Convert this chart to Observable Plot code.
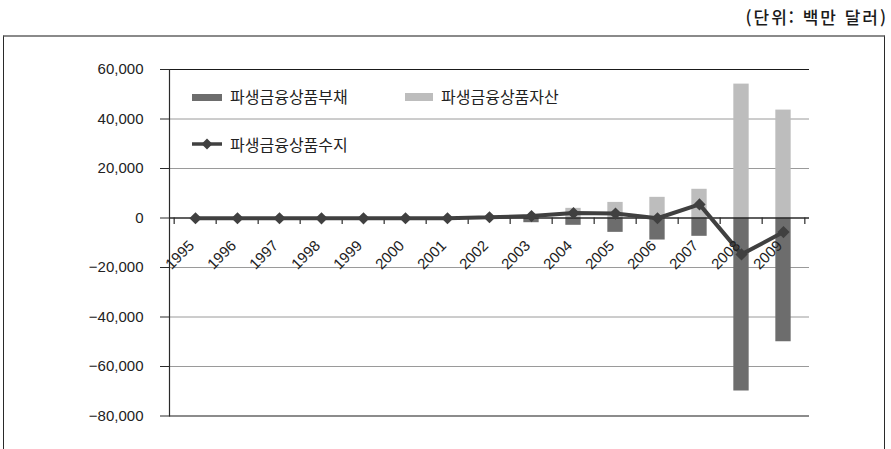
<!DOCTYPE html>
<html lang="ko">
<head>
<meta charset="utf-8">
<script src="https://cdn.jsdelivr.net/npm/d3@7"></script>
<script src="https://cdn.jsdelivr.net/npm/@observablehq/plot@0.6"></script>
<style>
  body { margin: 0; background: #fff; }
  #wrap { position: relative; width: 891px; height: 449px; overflow: hidden; background: #fff; }
  #unit { position: absolute; right: 3px; top: 7px; font: 500 17px "Noto Sans CJK KR", sans-serif; letter-spacing: 2px; line-height: 20px; color: #1a1a1a; }
  #frame { position: absolute; left: 3px; top: 35px; width: 880px; height: 500px; border-left: 1px solid #2a2a2a; border-right: 1px solid #2a2a2a; border-top: 2px solid #8a8a8a; }
  #chart svg { display: block; }
  .lg { position: absolute; font: 16px "Noto Sans CJK KR", sans-serif; color: #222; line-height: 20px; white-space: nowrap; }
  .sw { position: absolute; }
</style>
</head>
<body>
<div id="wrap">
  <div id="unit">(단위: 백만 달러)</div>
  <div id="frame">
    <div id="chart"></div>
    <div class="sw" style="left:188px;top:57px;width:30px;height:7px;background:#6d6d6d"></div>
    <div class="lg" style="left:226px;top:49px">파생금융상품부채</div>
    <div class="sw" style="left:401px;top:56px;width:28px;height:8px;background:#bdbdbd"></div>
    <div class="lg" style="left:437px;top:49px">파생금융상품자산</div>
    <svg class="sw" style="left:186px;top:100px" width="34" height="14">
      <line x1="2" y1="7" x2="32" y2="7" stroke="#404040" stroke-width="3.5"/>
      <path d="M17 1.5 L22.5 7 L17 12.5 L11.5 7 Z" fill="#404040"/>
    </svg>
    <div class="lg" style="left:226px;top:97px">파생금융상품수지</div>
  </div>
</div>
<script>
// Derivatives trade, 1995–2009 (USD millions)
const years = ["1995","1996","1997","1998","1999","2000","2001","2002","2003","2004","2005","2006","2007","2008","2009"];
const liabilities = [0, 0, 0, 0, 0, 0, 0, 0, -1900, -2950, -5800, -8900, -7400, -69900, -50000];
const assets = [0, 0, 0, 0, 0, 0, 0, 0, 600, 3900, 6300, 8350, 11600, 54100, 43600];
const balance = [-100, -100, -100, -150, -150, -100, -100, 300, 800, 2000, 1800, -100, 5500, -14700, -5700];
const yTicks = [60000, 40000, 20000, 0, -20000, -40000, -60000, -80000];
const gridValues = [40000, 20000, -20000, -40000, -60000];

const rows = years.map((year, i) => ({year, liability: liabilities[i], asset: assets[i], balance: balance[i]}));

const width = 880, height = 411;
const marginLeft = 165, marginRight = 75, marginTop = 32, marginBottom = 32.5;
const bw = (width - marginLeft - marginRight) / years.length;
const barInset = (bw - 16) / 2;

const chart = Plot.plot({
  width, height, marginLeft, marginRight, marginTop, marginBottom,
  style: {fontFamily: "'Liberation Sans', Arial, sans-serif", fontSize: "15px", color: "#222", background: "#fff"},
  x: {type: "band", domain: years, padding: 0, axis: null},
  y: {domain: [-80000, 60000], axis: null},
  marks: [
    Plot.ruleY(gridValues, {stroke: "#9a9a9a", strokeWidth: 1}),
    Plot.ruleY([60000, -80000], {stroke: "#1a1a1a", strokeWidth: 1.2}),
    Plot.barY(rows, {x: "year", y: "asset", fill: "#bdbdbd", insetLeft: barInset, insetRight: barInset}),
    Plot.barY(rows, {x: "year", y: "liability", fill: "#6d6d6d", insetLeft: barInset, insetRight: barInset}),
    Plot.ruleY([0], {stroke: "#2a2a2a", strokeWidth: 1.4}),
    // tick marks on the zero line at category boundaries
    Plot.ruleX(years, {x: d => d, y1: 0, y2: -2600, dx: -bw / 2, stroke: "#2a2a2a", strokeWidth: 1.2}),
    Plot.ruleX(years.slice(-1), {x: d => d, y1: 0, y2: -2600, dx: bw / 2, stroke: "#2a2a2a", strokeWidth: 1.2}),
    Plot.frame({anchor: "left", stroke: "#2a2a2a", strokeWidth: 1.2}),
    Plot.axisY(yTicks, {tickSize: 9, tickPadding: 17, tickFormat: d3.format(","), stroke: "#2a2a2a", fontSize: 15, fill: "#222"}),
    Plot.line(rows, {x: "year", y: "balance", stroke: "#404040", strokeWidth: 4, strokeLinejoin: "miter"}),
    Plot.dot(rows, {x: "year", y: "balance", symbol: "diamond2", r: 5.5, fill: "#404040", stroke: "none"}),
    Plot.text(years, {x: d => d, y: () => 0, text: d => d, rotate: -45, textAnchor: "end", lineAnchor: "top", dx: -8, dy: 21, fontSize: 15, fill: "#222"})
  ]
});
document.getElementById("chart").append(chart);
</script>
</body>
</html>
